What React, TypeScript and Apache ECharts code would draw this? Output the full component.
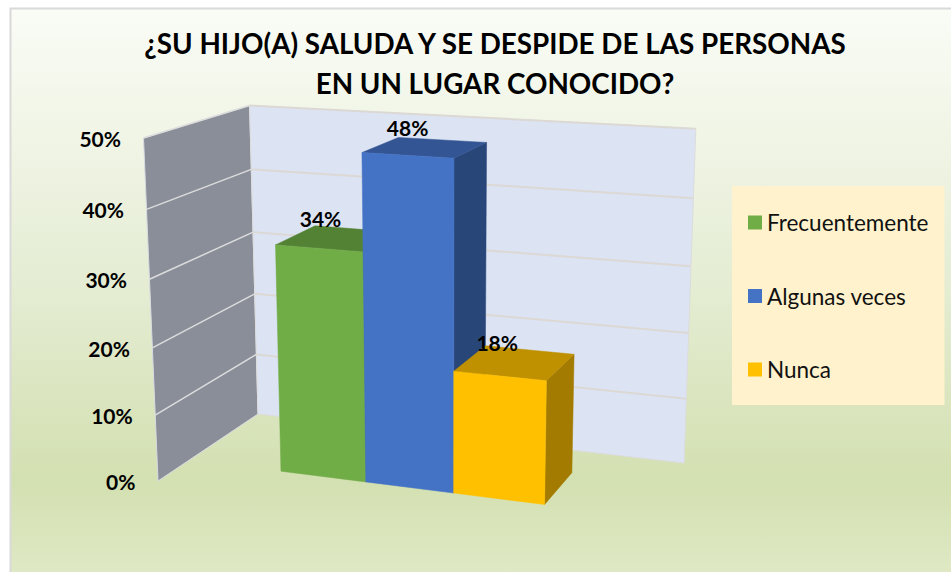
import React, { useEffect, useRef } from "react";
import * as echarts from "echarts";

const titleText = "¿SU HIJO(A) SALUDA Y SE DESPIDE DE LAS PERSONAS\nEN UN LUGAR CONOCIDO?";
const categories = ["Frecuentemente", "Algunas veces", "Nunca"];
const values = [34, 48, 18];
const ticks = [0, 10, 20, 30, 40, 50];

const frontColors = ["#70ad47", "#4472c4", "#ffc000"];
const topColors = ["#548235", "#335593", "#bf9000"];
const sideColors = ["#3f6228", "#294679", "#a37b00"];

const FONT = "Lato";

// Perspective of the 3D box: image of its corners, plus the depth terms of the projection.
const O = [158, 481];
const X = [629, 543];
const Y = [143.5, 138];
const Z = [258, 414];
const G = -0.09;
const H = -0.048;
const I = 0.117;
const project = (u: number, t: number, z: number): number[] => {
  const w = 1 + G * u + H * t + I * z;
  const c = (k: number) =>
    O[k] + u * ((1 + G) * X[k] - O[k]) + t * ((1 + H) * Y[k] - O[k]) + z * ((1 + I) * Z[k] - O[k]);
  return [c(0) / w, c(1) / w];
};

const BAR_START = 0.2145;
const BAR_SPAN = 0.5775;
const Z0 = 0.2945;
const Z1 = 0.71;

const toT = (params: any, api: any, v: number) => {
  const cs = params.coordSys;
  return (cs.y + cs.height - api.coord([0, v])[1]) / cs.height;
};

const renderWall = (params: any, api: any) => {
  const tick = api.value(0);
  const t = toT(params, api, tick);
  const children: any[] = [];
  if (params.dataIndex === 0) {
    children.push({
      type: "polygon",
      z2: 1,
      shape: { points: [project(0, 0, 0), project(0, 1, 0), project(0, 1, 1), project(0, 0, 1)] },
      style: { fill: "#898e99", stroke: "#d9dbe2", lineWidth: 1 },
    });
    children.push({
      type: "polygon",
      z2: 1,
      shape: { points: [project(0, 0, 1), project(0, 1, 1), project(1, 1, 1), project(1, 0, 1)] },
      style: { fill: "#dce3f3", stroke: "#dcdcdc", lineWidth: 1 },
    });
  }
  if (t > 0) {
    const a = project(0, t, 0);
    const b = project(0, t, 1);
    const c = project(1, t, 1);
    children.push({
      type: "polyline",
      z2: 2,
      shape: { points: [a, b] },
      style: { fill: "none", stroke: "#dcdcdc", lineWidth: 1.5 },
    });
    children.push({
      type: "polyline",
      z2: 2,
      shape: { points: [b, c] },
      style: { fill: "none", stroke: "#dcd9d5", lineWidth: 2 },
    });
  }
  const p = project(0, t, 0);
  children.push({
    type: "text",
    z2: 3,
    style: {
      text: tick + "%",
      x: p[0] - 22.5,
      y: p[1] + 0.5,
      align: "right",
      verticalAlign: "middle",
      font: `bold 21px ${FONT}`,
      fill: "#000",
    },
  });
  return { type: "group", children };
};

const renderBar = (params: any, api: any) => {
  const cs = params.coordSys;
  const cat = api.value(0);
  const val = api.value(1);
  const center = api.coord([cat, val])[0];
  const band = api.size([1, 0])[0];
  const s0 = (center - band / 2 - cs.x) / cs.width;
  const s1 = (center + band / 2 - cs.x) / cs.width;
  const u0 = BAR_START + BAR_SPAN * s0;
  const u1 = BAR_START + BAR_SPAN * s1;
  const t = toT(params, api, val);
  const poly = (pts: number[][], fill: string, z2: number) => ({
    type: "polygon",
    z2,
    shape: { points: pts },
    style: { fill, stroke: fill, lineWidth: 0.5 },
  });
  const lp = project((u0 + u1) / 2, t, 0.5);
  return {
    type: "group",
    children: [
      poly([project(u1, 0, Z0), project(u1, t, Z0), project(u1, t, Z1), project(u1, 0, Z1)], sideColors[cat], 1),
      poly([project(u0, t, Z0), project(u0, t, Z1), project(u1, t, Z1), project(u1, t, Z0)], topColors[cat], 2),
      poly([project(u0, 0, Z0), project(u0, t, Z0), project(u1, t, Z0), project(u1, 0, Z0)], frontColors[cat], 3),
      {
        type: "text",
        z2: 4,
        style: {
          text: val + "%",
          x: lp[0] - 17.5,
          y: lp[1] - 20,
          align: "center",
          verticalAlign: "middle",
          font: `bold 21px ${FONT}`,
          fill: "#000",
        },
      },
    ],
  };
};

export default function App() {
  const ref = useRef<HTMLDivElement>(null);
  useEffect(() => {
    const chart = echarts.init(ref.current!, undefined, { renderer: "svg" });
    chart.setOption({
      animation: false,
      backgroundColor: "#fff",
      graphic: [
        {
          type: "rect",
          z: 0,
          shape: { x: 10.5, y: 8.5, width: 960, height: 590 },
          style: {
            stroke: "#d9d9d9",
            lineWidth: 2,
            fill: {
              type: "linear",
              x: 0,
              y: 0,
              x2: 0,
              y2: 1,
              colorStops: [
                { offset: 0, color: "#fafcf6" },
                { offset: 0.48, color: "#e4ecd2" },
                { offset: 0.8, color: "#d3e0b1" },
                { offset: 1, color: "#e2ebca" },
              ],
            },
          },
        },
      ],
      title: {
        text: titleText,
        left: 490,
        top: 18,
        textAlign: "center",
        textStyle: { fontFamily: FONT, fontWeight: "bold", fontSize: 27.8, lineHeight: 40, color: "#000" },
      },
      legend: {
        orient: "vertical",
        left: 732,
        top: 186,
        icon: "rect",
        itemWidth: 14,
        itemHeight: 14,
        itemGap: 50.5,
        padding: [25, 16, 24, 16],
        backgroundColor: "#fff2cc",
        selectedMode: false,
        data: categories,
        textStyle: { fontFamily: FONT, fontSize: 22.5, color: "#111" },
      },
      grid: { left: 100, right: 300, top: 120, bottom: 100 },
      xAxis: { type: "category", data: categories, show: false },
      yAxis: { type: "value", min: 0, max: 50, interval: 10, show: false },
      series: [
        {
          type: "custom",
          name: "walls",
          z: 1,
          silent: true,
          renderItem: renderWall,
          data: ticks.map((t) => [t]),
          encode: { y: 0 },
        },
        ...categories.map((name, i) => ({
          type: "custom",
          name,
          z: 2 + i,
          silent: true,
          itemStyle: { color: frontColors[i] },
          renderItem: renderBar,
          data: [[i, values[i]]],
          encode: { x: 0, y: 1 },
        })),
      ],
    });
    return () => chart.dispose();
  }, []);
  return <div ref={ref} style={{ position: "absolute", left: 0, top: 0, width: 951, height: 572 }} />;
}
